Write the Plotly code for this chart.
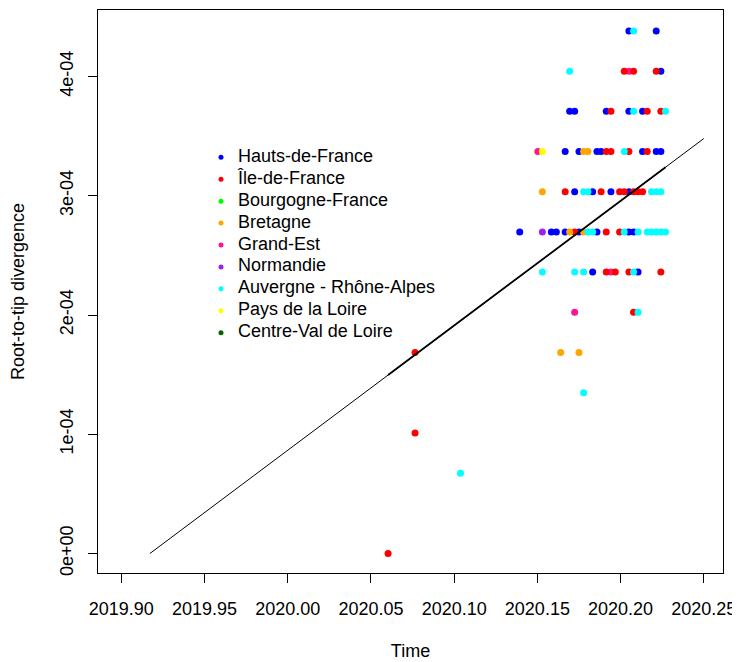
import plotly.graph_objects as go

# ---------------- data ----------------
regions = ["Hauts-de-France", "Île-de-France", "Bourgogne-France", "Bretagne",
           "Grand-Est", "Normandie", "Auvergne - Rhône-Alpes", "Pays de la Loire",
           "Centre-Val de Loire"]
colors = ["#0000FF", "#FF0000", "#00FF00", "#FFA500", "#FF1493", "#A020F0",
          "#00FFFF", "#FFFF00", "#006400"]

hauts_date = [2020.1832, 2020.2105,
              2020.1394, 2020.1584, 2020.1614, 2020.1667, 2020.1750, 2020.1858, 2020.2050, 2020.2078,
              2020.1724, 2020.1832, 2020.1942, 2020.2050,
              2020.1667, 2020.1750, 2020.1858, 2020.1883, 2020.2132, 2020.2214, 2020.2242,
              2020.1694, 2020.1724, 2020.1914, 2020.2050, 2020.2132,
              2020.2242,
              2020.2050, 2020.2214]
hauts_div = [2.360e-4, 2.360e-4,
             2.697e-4, 2.697e-4, 2.697e-4, 2.697e-4, 2.697e-4, 2.697e-4, 2.697e-4, 2.697e-4,
             3.034e-4, 3.034e-4, 3.034e-4, 3.034e-4,
             3.371e-4, 3.371e-4, 3.371e-4, 3.371e-4, 3.371e-4, 3.371e-4, 3.371e-4,
             3.708e-4, 3.708e-4, 3.708e-4, 3.708e-4, 3.708e-4,
             4.045e-4,
             4.382e-4, 4.382e-4]

idf_date = [2020.0603, 2020.0765, 2020.0765, 2020.2078,
            2020.1914, 2020.1968, 2020.2050, 2020.2242,
            2020.1724, 2020.1914, 2020.1994,
            2020.1667, 2020.1883, 2020.1994, 2020.2022, 2020.2078, 2020.2105, 2020.2132,
            2020.1914, 2020.1942, 2020.2050, 2020.2160,
            2020.1942, 2020.2160, 2020.2242,
            2020.2022, 2020.2078, 2020.2214]
idf_div = [0.0, 1.011e-4, 1.686e-4, 2.023e-4,
           2.360e-4, 2.360e-4, 2.360e-4, 2.360e-4,
           2.697e-4, 2.697e-4, 2.697e-4,
           3.034e-4, 3.034e-4, 3.034e-4, 3.034e-4, 3.034e-4, 3.034e-4, 3.034e-4,
           3.371e-4, 3.371e-4, 3.371e-4, 3.371e-4,
           3.708e-4, 3.708e-4, 3.708e-4,
           4.045e-4, 4.045e-4, 4.045e-4]

bourgogne_date = []
bourgogne_div = []

bretagne_date = [2020.1640, 2020.1750, 2020.1694, 2020.1778, 2020.1530, 2020.1778, 2020.1804]
bretagne_div = [1.686e-4, 1.686e-4, 2.697e-4, 2.697e-4, 3.034e-4, 3.371e-4, 3.371e-4]

grandest_date = [2020.1724, 2020.1942, 2020.1503, 2020.2050]
grandest_div = [2.023e-4, 2.360e-4, 3.371e-4, 4.045e-4]

normandie_date = [2020.1530]
normandie_div = [2.697e-4]

auvergne_date = [2020.1038, 2020.1778, 2020.2105,
                 2020.1530, 2020.1724, 2020.1778, 2020.2078,
                 2020.1804, 2020.1832, 2020.2022, 2020.2105, 2020.2160, 2020.2186, 2020.2214,
                 2020.2242, 2020.2270,
                 2020.1778, 2020.1804, 2020.2186, 2020.2214, 2020.2242,
                 2020.2022,
                 2020.2078, 2020.2270,
                 2020.1694,
                 2020.2078]
auvergne_div = [6.74e-5, 1.348e-4, 2.023e-4,
                2.360e-4, 2.360e-4, 2.360e-4, 2.360e-4,
                2.697e-4, 2.697e-4, 2.697e-4, 2.697e-4, 2.697e-4, 2.697e-4, 2.697e-4,
                2.697e-4, 2.697e-4,
                3.034e-4, 3.034e-4, 3.034e-4, 3.034e-4, 3.034e-4,
                3.371e-4,
                3.708e-4, 3.708e-4,
                4.045e-4,
                4.382e-4]

pays_date = [2020.1530]
pays_div = [3.371e-4]

centre_date = []
centre_div = []

x_tick_vals = [2019.90, 2019.95, 2020.00, 2020.05, 2020.10, 2020.15, 2020.20, 2020.25]
x_tick_text = ["2019.90", "2019.95", "2020.00", "2020.05", "2020.10", "2020.15", "2020.20", "2020.25"]
y_tick_vals = [0, 1e-4, 2e-4, 3e-4, 4e-4]
y_tick_text = ["0e+00", "1e-04", "2e-04", "3e-04", "4e-04"]

# root-to-tip regression (root date and rate)
root_date = 2019.9172
rate = 1.0456e-3
line_end = 2020.25

# ---------------- figure ----------------
FONT = "Liberation Sans, Arial, Helvetica, sans-serif"

series = {
    "Hauts-de-France": (hauts_date, hauts_div),
    "Île-de-France": (idf_date, idf_div),
    "Bourgogne-France": (bourgogne_date, bourgogne_div),
    "Bretagne": (bretagne_date, bretagne_div),
    "Grand-Est": (grandest_date, grandest_div),
    "Normandie": (normandie_date, normandie_div),
    "Auvergne - Rhône-Alpes": (auvergne_date, auvergne_div),
    "Pays de la Loire": (pays_date, pays_div),
    "Centre-Val de Loire": (centre_date, centre_div),
}
draw_order = ["Hauts-de-France", "Grand-Est", "Normandie", "Île-de-France", "Bretagne",
              "Auvergne - Rhône-Alpes", "Pays de la Loire", "Bourgogne-France",
              "Centre-Val de Loire"]

fig = go.Figure()
for name in draw_order:
    xs, ys = series[name]
    col = colors[regions.index(name)]
    fig.add_trace(go.Scatter(x=xs, y=ys, mode="markers", name=name, showlegend=False,
                             marker=dict(color=col, size=7, line=dict(width=0))))

all_dates = [d for n in regions for d in series[n][0]]
thin_x = [root_date, line_end]
thick_x = [min(all_dates), max(all_dates)]
fig.add_trace(go.Scatter(x=thin_x, y=[rate * (x - root_date) for x in thin_x], mode="lines",
                         line=dict(color="black", width=1), showlegend=False, hoverinfo="skip"))
fig.add_trace(go.Scatter(x=thick_x, y=[rate * (x - root_date) for x in thick_x], mode="lines",
                         line=dict(color="black", width=1.8), showlegend=False, hoverinfo="skip"))

# legend (R style, no box) drawn on an overlay axis
rows = list(range(len(regions)))
fig.add_trace(go.Scatter(x=[0.1968] * len(regions), y=rows, mode="markers",
                         marker=dict(color=colors, size=5, line=dict(width=0)),
                         xaxis="x2", yaxis="y2", showlegend=False, hoverinfo="skip"))
fig.add_trace(go.Scatter(x=[0.224] * len(regions), y=rows, mode="text", text=regions,
                         textposition="middle right",
                         textfont=dict(family=FONT, size=18, color="black"),
                         xaxis="x2", yaxis="y2", showlegend=False, hoverinfo="skip"))

axis_common = dict(showgrid=False, zeroline=False, showline=True, mirror=True,
                   linecolor="black", linewidth=1, ticks="outside", ticklen=9,
                   tickcolor="black", tickwidth=1, automargin=False,
                   tickfont=dict(family=FONT, size=18, color="black"))

# the page body has an 8px default margin, so the figure is 8px smaller
fig.update_layout(
    width=732, height=654,
    margin=dict(l=90, r=17, t=2, b=89),
    paper_bgcolor="white", plot_bgcolor="white",
    showlegend=False,
    font=dict(family=FONT, size=18, color="black"),
    xaxis=dict(range=[2019.88601, 2020.26153], tickmode="array",
               tickvals=x_tick_vals, ticktext=x_tick_text, ticklabelstandoff=10,
               title=dict(text="Time", font=dict(family=FONT, size=18), standoff=26),
               **axis_common),
    yaxis=dict(range=[-1.635e-5, 4.5577e-4], tickmode="array",
               tickvals=y_tick_vals, ticktext=y_tick_text, tickangle=-90,
               ticklabelstandoff=8,
               title=dict(text="Root-to-tip divergence", font=dict(family=FONT, size=18),
                          standoff=30),
               **axis_common),
    xaxis2=dict(overlaying="x", range=[0, 1], visible=False, fixedrange=True),
    yaxis2=dict(overlaying="y", range=[18.96, -6.72], visible=False, fixedrange=True),
)

fig.write_html("out.html")
